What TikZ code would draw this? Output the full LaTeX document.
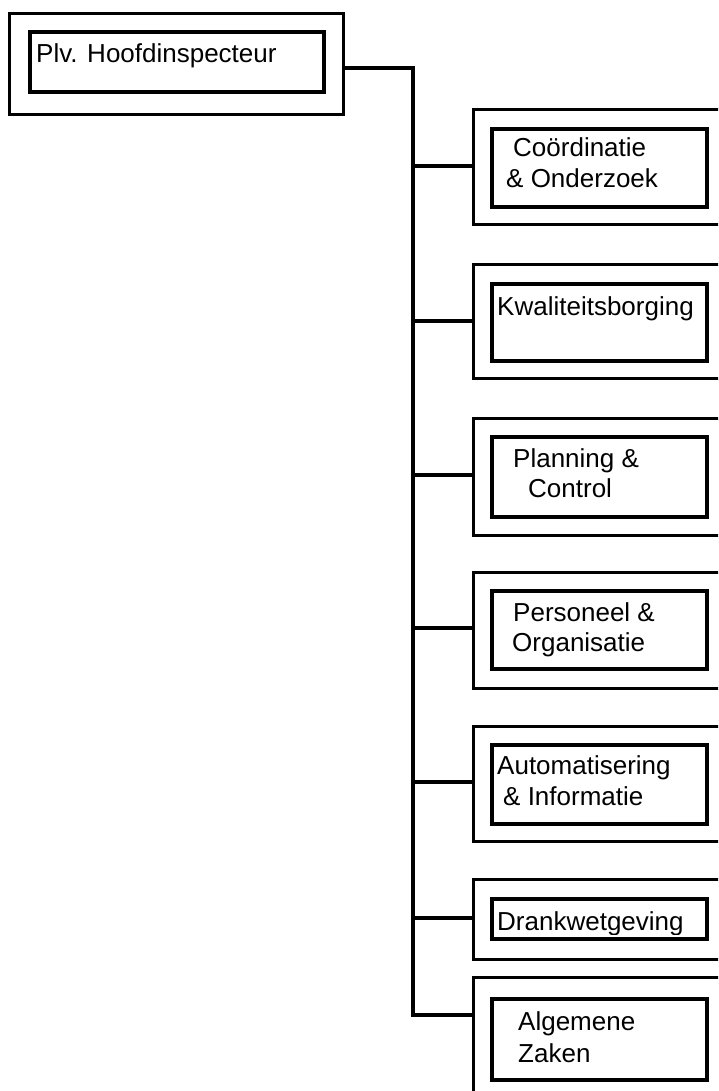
\documentclass[tikz,border=0pt]{standalone}
\usepackage{fontspec}
\setmainfont{Liberation Sans}
\begin{document}
\begin{tikzpicture}[x=1pt,y=-1pt,
  outerbox/.style={draw=black,line width=3pt,rectangle,inner sep=0pt,anchor=north west},
  innerbox/.style={draw=black,line width=4pt,rectangle,inner sep=0pt,anchor=north west},
  conn/.style={draw=black,line width=3.4pt},
  lbl/.style={anchor=base west,inner sep=0pt,font=\fontsize{26}{30}\selectfont}]
\useasboundingbox (0,0) rectangle (718,1091);
\fill[white] (0,0) rectangle (718,1091);
\clip (0,0) rectangle (718,1091);
% top box
\node[outerbox,minimum width=334pt,minimum height=101pt] (rootO) at (8,12) {};
\node[innerbox,minimum width=294pt,minimum height=60pt] (rootI) at (28,30) {};
\node[lbl] (rootT) at (36,63) {Plv. Hoofdinspecteur};
\coordinate (rootC) at (rootO.east |- 0,68);
\coordinate (trunkTop) at (413,68);
\coordinate (trunkBot) at (413,1015);
% right boxes (outer boxes run past the right edge)
\node[outerbox,minimum width=280pt,minimum height=115pt] (b1O) at (472,108) {};
\node[outerbox,minimum width=280pt,minimum height=114pt] (b2O) at (472,263) {};
\node[outerbox,minimum width=280pt,minimum height=117pt] (b3O) at (472,417) {};
\node[outerbox,minimum width=280pt,minimum height=116pt] (b4O) at (472,571) {};
\node[outerbox,minimum width=280pt,minimum height=115pt] (b5O) at (472,725) {};
\node[outerbox,minimum width=280pt,minimum height=80pt] (b6O) at (472,878) {};
\node[outerbox,minimum width=280pt,minimum height=140pt] (b7O) at (472,976) {};
\node[innerbox,minimum width=215pt,minimum height=78pt] (b1I) at (490,127) {};
\node[innerbox,minimum width=215pt,minimum height=77pt] (b2I) at (490,282) {};
\node[innerbox,minimum width=215pt,minimum height=80pt] (b3I) at (490,435) {};
\node[innerbox,minimum width=215pt,minimum height=78pt] (b4I) at (490,589) {};
\node[innerbox,minimum width=215pt,minimum height=79pt] (b5I) at (490,743) {};
\node[innerbox,minimum width=215pt,minimum height=40pt] (b6I) at (490,897) {};
\node[innerbox,minimum width=215pt,minimum height=81pt] (b7I) at (490,997) {};
% labels
\node[lbl] (t1a) at (513,157) {Coördinatie};
\node[lbl] (t1b) at (506,188) {\& Onderzoek};
\node[lbl] (t2) at (497,315) {Kwaliteitsborging};
\node[lbl] (t3a) at (513,467) {Planning \&};
\node[lbl] (t3b) at (528,497) {Control};
\node[lbl] (t4a) at (513,621) {Personeel \&};
\node[lbl] (t4b) at (512,651) {Organisatie};
\node[lbl] (t5a) at (497,774) {Automatisering};
\node[lbl] (t5b) at (503,805) {\& Informatie};
\begin{scope}
\clip (480,890) rectangle (710,934);
\node[lbl] (t6) at (497,930) {Drankwetgeving};
\end{scope}
\node[lbl] (t7a) at (518,1030) {Algemene};
\node[lbl] (t7b) at (518,1062) {Zaken};
% connectors
\draw[conn] (rootC) -- (trunkTop) -- (trunkBot) -- (b7O.west |- trunkBot);
\draw[conn] (trunkTop |- 0,166) -- (b1O.west |- 0,166);
\draw[conn] (trunkTop |- 0,321) -- (b2O.west |- 0,321);
\draw[conn] (trunkTop |- 0,475) -- (b3O.west |- 0,475);
\draw[conn] (trunkTop |- 0,628) -- (b4O.west |- 0,628);
\draw[conn] (trunkTop |- 0,782) -- (b5O.west |- 0,782);
\draw[conn] (trunkTop |- 0,918) -- (b6O.west |- 0,918);
\end{tikzpicture}
\end{document}
